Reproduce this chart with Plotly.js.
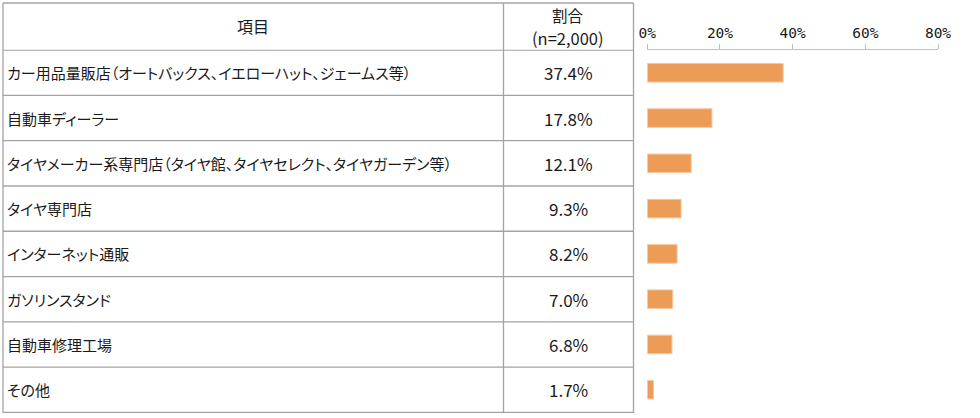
<!DOCTYPE html>
<html>
<head>
<meta charset="utf-8">
<script src="https://cdn.plot.ly/plotly-3.0.1.min.js"></script>
<style>
html,body{margin:0;padding:0;background:#fff;}
#chart{width:980px;height:418px;}
svg text{font-feature-settings:"palt" 1;}
</style>
</head>
<body>
<div id="chart"></div>
<script>
const categories = [
  "カー用品量販店（オートバックス、イエローハット、ジェームス等）",
  "自動車ディーラー",
  "タイヤメーカー系専門店（タイヤ館、タイヤセレクト、タイヤガーデン等）",
  "タイヤ専門店",
  "インターネット通販",
  "ガソリンスタンド",
  "自動車修理工場",
  "その他"
];
const values = [37.4, 17.8, 12.1, 9.3, 8.2, 7.0, 6.8, 1.7];
const tickValues = [0, 20, 40, 60, 80];
const tickLabels = ["0%", "20%", "40%", "60%", "80%"];
const headerItem = "項目";
const headerShare = "割合";
const headerN = "(n=2,000)";

const W = 980, H = 418;
const px = v => v / W;
const py = v => 1 - v / H;
const cjk = '"Noto Sans CJK JP", "Noto Sans", sans-serif';
const txt = '#1a1a1a';
const lineColor = '#A3A3A3';

const trace = {
  type: 'bar',
  orientation: 'h',
  x: values,
  y: categories,
  width: 0.41,
  marker: {color: '#ED9C57', line: {color: '#F7C8A0', width: 1}},
  hoverinfo: 'skip'
};

const annotations = [];
categories.forEach((c, i) => {
  annotations.push({
    xref: 'paper', yref: 'y', x: px(5), y: c, xanchor: 'left', yanchor: 'middle',
    text: c, showarrow: false, font: {family: cjk, size: 15, color: txt}
  });
  annotations.push({
    xref: 'paper', yref: 'y', x: px(568), y: c, xanchor: 'center', yanchor: 'middle',
    text: values[i].toFixed(1) + '%', showarrow: false, font: {family: cjk, size: 17, color: txt}
  });
});
annotations.push({xref: 'paper', yref: 'paper', x: px(253), y: py(26), xanchor: 'center', yanchor: 'middle',
  text: headerItem, showarrow: false, font: {family: cjk, size: 16, color: txt}});
annotations.push({xref: 'paper', yref: 'paper', x: px(568), y: py(15), xanchor: 'center', yanchor: 'middle',
  text: headerShare, showarrow: false, font: {family: cjk, size: 15.5, color: txt}});
annotations.push({xref: 'paper', yref: 'paper', x: px(568), y: py(38), xanchor: 'center', yanchor: 'middle',
  text: headerN, showarrow: false, font: {family: cjk, size: 16.5, color: txt}});

const shapes = [];
const ln = {color: lineColor, width: 1.3};
shapes.push({type: 'line', xref: 'paper', yref: 'paper', x0: px(3), x1: px(633.5), y0: py(3), y1: py(3), line: ln});
for (let i = 0; i <= categories.length; i++) {
  shapes.push({type: 'line', xref: 'paper', yref: 'y', x0: px(3), x1: px(633.5), y0: i - 0.5, y1: i - 0.5, line: ln});
}
[3, 503.5, 633.5].forEach(x => {
  shapes.push({type: 'line', xref: 'paper', yref: 'paper', x0: px(x), x1: px(x), y0: py(413), y1: py(3), line: ln});
});

const layout = {
  width: W, height: H,
  margin: {l: 0, r: 0, t: 0, b: 0, pad: 0},
  paper_bgcolor: '#fff', plot_bgcolor: '#fff',
  showlegend: false,
  xaxis: {
    domain: [px(647.3), px(938)],
    range: [0, 80],
    side: 'top',
    tickmode: 'array',
    tickvals: tickValues,
    ticktext: tickLabels,
    ticks: 'outside', ticklen: 5, tickcolor: '#BFBFBF', tickwidth: 1,
    ticklabelstandoff: 0,
    showline: true, linecolor: '#BFBFBF', linewidth: 1,
    showgrid: false, zeroline: false,
    tickfont: {family: '"DejaVu Sans Mono", monospace', size: 14.5, color: txt},
    fixedrange: true
  },
  yaxis: {
    domain: [1 - 413 / H, 1 - 49.5 / H],
    type: 'category',
    autorange: 'reversed',
    showticklabels: false, ticks: '', showgrid: false, zeroline: false, showline: false,
    fixedrange: true
  },
  annotations: annotations,
  shapes: shapes
};

Plotly.newPlot('chart', [trace], layout, {displayModeBar: false, staticPlot: true});
</script>
</body>
</html>
